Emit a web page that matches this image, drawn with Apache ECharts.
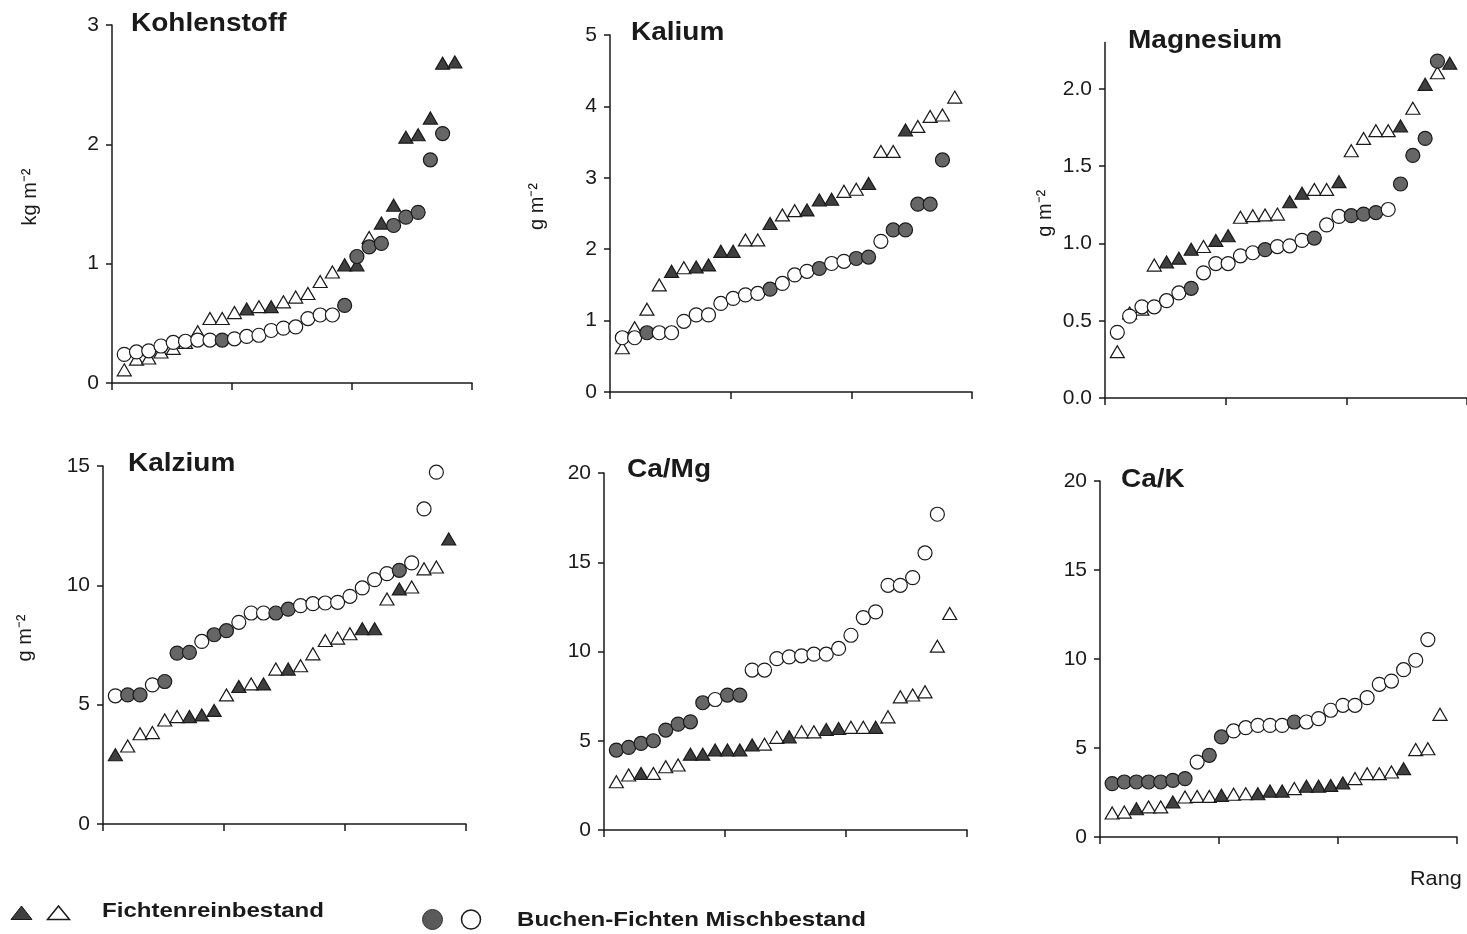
<!DOCTYPE html>
<html><head><meta charset="utf-8">
<script src="https://cdn.jsdelivr.net/npm/echarts@6/dist/echarts.min.js"></script>
<style>html,body{margin:0;padding:0;background:#fff}#c{width:1467px;height:934px}</style>
</head><body><div id="c"></div>
<script>
// ---------- DATA (ranked values; flag 1 = filled symbol, 0 = open symbol) ----------
const titles = ['Kohlenstoff','Kalium','Magnesium','Kalzium','Ca/Mg','Ca/K'];
const yNames = ['kg m\u207B\u00B2','g m\u207B\u00B2','g m\u207B\u00B2','g m\u207B\u00B2','',''];
const yMax = [3, 5, 2.3, 15, 20, 20];
const yStep = [1, 1, 0.5, 5, 5, 5];
const yTicks3 = [0, 0.5, 1.0, 1.5, 2.0];

// Kohlenstoff
const fiC  = [0.11,0.2,0.21,0.26,0.29,0.34,0.43,0.54,0.54,0.59,0.62,0.64,0.64,0.68,0.72,0.75,0.85,0.93,0.99,0.99,1.22,1.34,1.49,2.06,2.08,2.22,2.68,2.69];
const fiCf = [0,0,0,0,0,0,0,0,0,0,1,0,1,0,0,0,0,0,1,1,0,1,1,1,1,1,1,1];
const buC  = [0.24,0.26,0.27,0.31,0.34,0.35,0.36,0.36,0.36,0.37,0.39,0.4,0.44,0.46,0.47,0.54,0.57,0.57,0.65,1.06,1.14,1.17,1.32,1.39,1.43,1.87,2.09];
const buCf = [0,0,0,0,0,0,0,0,1,0,0,0,0,0,0,0,0,0,1,1,1,1,1,1,1,1,1];
// Kalium
const fiK  = [0.62,0.9,1.16,1.5,1.69,1.74,1.75,1.78,1.97,1.97,2.13,2.13,2.36,2.48,2.54,2.55,2.69,2.7,2.81,2.84,2.92,3.37,3.37,3.67,3.72,3.86,3.88,4.13];
const fiKf = [0,0,0,0,1,0,1,1,1,1,0,0,1,0,0,1,1,1,0,0,1,0,0,1,0,0,0,0];
const buK  = [0.76,0.76,0.83,0.83,0.83,0.99,1.08,1.08,1.24,1.31,1.36,1.38,1.44,1.52,1.64,1.69,1.73,1.8,1.83,1.87,1.89,2.11,2.27,2.27,2.63,2.63,3.25];
const buKf = [0,0,1,0,0,0,0,0,0,0,0,0,1,0,0,0,1,0,0,1,1,0,1,1,1,1,1];
// Magnesium
const fiM  = [0.3,0.55,0.575,0.86,0.88,0.905,0.963,0.98,1.02,1.05,1.17,1.18,1.185,1.19,1.27,1.325,1.35,1.35,1.4,1.6,1.68,1.73,1.73,1.76,1.875,2.03,2.105,2.166];
const fiMf = [0,0,0,0,1,1,1,0,1,1,0,0,0,0,1,1,0,0,1,0,0,0,0,1,0,1,0,1];
const buM  = [0.425,0.53,0.59,0.59,0.63,0.68,0.71,0.81,0.87,0.87,0.92,0.94,0.96,0.98,0.985,1.02,1.035,1.12,1.175,1.18,1.19,1.2,1.22,1.385,1.57,1.68,2.18];
const buMf = [0,0,0,0,0,0,1,0,0,0,0,0,1,0,0,0,1,0,0,1,1,1,0,1,1,1,1];
// Kalzium
const fiCa  = [2.9,3.27,3.78,3.83,4.36,4.5,4.5,4.57,4.76,5.41,5.76,5.87,5.87,6.49,6.49,6.63,7.13,7.69,7.79,7.97,8.18,8.18,9.43,9.85,9.93,10.69,10.77,11.94];
const fiCaf = [1,0,0,0,0,0,1,1,1,0,1,0,1,0,1,0,0,0,0,0,1,1,0,1,0,0,0,1];
const buCa  = [5.37,5.41,5.41,5.83,5.97,7.16,7.19,7.65,7.93,8.1,8.45,8.84,8.84,8.84,9.0,9.15,9.23,9.26,9.29,9.54,9.89,10.24,10.49,10.63,10.94,13.2,14.74];
const buCaf = [0,1,1,0,1,1,1,0,1,1,0,0,0,1,1,0,0,0,0,0,0,0,0,1,0,0,0];
// Ca/Mg
const fiCaMg  = [2.7,3.08,3.17,3.17,3.54,3.64,4.25,4.25,4.48,4.48,4.48,4.76,4.81,5.19,5.22,5.5,5.5,5.63,5.69,5.75,5.75,5.75,6.34,7.46,7.56,7.74,10.3,12.13];
const fiCaMgf = [0,0,1,0,0,0,1,1,1,1,1,1,0,0,1,0,0,1,1,0,0,1,0,0,0,0,0,0];
const buCaMg  = [4.48,4.63,4.85,5.0,5.6,5.93,6.06,7.13,7.31,7.56,7.56,8.96,8.96,9.6,9.7,9.76,9.85,9.85,10.17,10.91,11.9,12.22,13.71,13.71,14.14,15.52,17.69];
const buCaMgf = [1,1,1,1,1,1,1,1,0,1,1,0,0,0,0,0,0,0,0,0,0,0,0,0,0,0,0];
// Ca/K
const fiCaK  = [1.35,1.4,1.59,1.69,1.69,1.97,2.25,2.28,2.28,2.34,2.4,2.43,2.43,2.58,2.58,2.72,2.85,2.85,2.9,3.03,3.28,3.56,3.56,3.65,3.84,4.91,4.96,6.89];
const fiCaKf = [0,0,1,0,0,1,0,0,0,1,0,0,1,1,1,0,1,1,1,1,0,0,0,0,1,0,0,0];
const buCaK  = [3.0,3.09,3.09,3.09,3.09,3.18,3.28,4.21,4.59,5.62,5.96,6.14,6.27,6.27,6.27,6.46,6.46,6.65,7.12,7.4,7.4,7.83,8.58,8.76,9.4,9.93,11.09];
const buCaKf = [1,1,1,1,1,1,1,0,1,1,0,0,0,0,0,1,0,0,0,0,0,0,0,0,0,0,0];

const fichten = [fiC, fiK, fiM, fiCa, fiCaMg, fiCaK];
const fichtenFilled = [fiCf, fiKf, fiMf, fiCaf, fiCaMgf, fiCaKf];
const buchen = [buC, buK, buM, buCa, buCaMg, buCaK];
const buchenFilled = [buCf, buKf, buMf, buCaf, buCaMgf, buCaKf];

const legend1 = 'Fichtenreinbestand';
const legend2 = 'Buchen-Fichten Mischbestand';
const xName = 'Rang';

// ---------- LAYOUT ----------
const layout = [
  {left:112, top:25, width:360, height:358, gap:72, tx:131, ty:24},
  {left:610, top:35, width:362, height:357, gap:63, tx:631, ty:33},
  {left:1105, top:42.6, width:362, height:355.4, gap:50, tx:1128, ty:41.5},
  {left:103, top:466, width:363, height:358, gap:68, tx:128, ty:464},
  {left:604, top:473, width:363, height:357, gap:64, tx:627, ty:470.5},
  {left:1100, top:481, width:357, height:356, gap:64, tx:1121, ty:480.5}
];
const INK = '#1a1a1a';
const FONT = '"Liberation Sans", Arial, Helvetica, sans-serif';
const FILL_TRI = '#3f3f3f';
const FILL_CIR = '#666666';

const grid = [], xAxis = [], yAxis = [], series = [], graphic = [];
layout.forEach((L, p) => {
  grid.push({left:L.left, top:L.top, width:L.width, height:L.height, containLabel:false});
  xAxis.push({
    type:'value', gridIndex:p, min:0, max:29.4, interval:9.8,
    axisLine:{show:true, onZero:false, lineStyle:{color:INK, width:1.5}},
    axisTick:{show:true, inside:false, length:7, lineStyle:{color:INK, width:1.5}},
    axisLabel:{show:false}, splitLine:{show:false}
  });
  const yl = {
    type:'value', gridIndex:p, min:0, max:yMax[p], interval:yStep[p],
    name:yNames[p], nameLocation:'middle', nameGap:L.gap, nameRotate:90,
    nameTextStyle:{fontSize:20, color:INK, fontFamily:FONT, padding:[0,0,0,14]},
    axisLine:{show:true, lineStyle:{color:INK, width:1.5}},
    axisTick:{show:true, inside:false, length:6, lineStyle:{color:INK, width:1.5}},
    axisLabel:{show:true, fontSize:21, color:INK, fontFamily:FONT, margin:13,
      formatter: p === 2 ? (v => v.toFixed(1)) : (v => String(v))},
    splitLine:{show:false}
  };
  if (p === 2) {
    yl.axisLabel.customValues = yTicks3;
    yl.axisTick.customValues = yTicks3;
  }
  yAxis.push(yl);
  series.push({
    type:'scatter', xAxisIndex:p, yAxisIndex:p, symbol:'triangle', symbolSize:[14,12],
    itemStyle:{borderColor:INK, borderWidth:1.2, opacity:1},
    emphasis:{disabled:true},
    data: fichten[p].map((v,i) => ({value:[i+1, v], itemStyle:{color: fichtenFilled[p][i] ? FILL_TRI : '#ffffff'}}))
  });
  series.push({
    type:'scatter', xAxisIndex:p, yAxisIndex:p, symbol:'circle', symbolSize:14,
    itemStyle:{borderColor:INK, borderWidth:1.2, opacity:1},
    emphasis:{disabled:true},
    data: buchen[p].map((v,i) => ({value:[i+1, v], itemStyle:{color: buchenFilled[p][i] ? FILL_CIR : '#ffffff'}}))
  });
  graphic.push({type:'text', x:L.tx, y:L.ty, scaleX:1.12,
    style:{text:titles[p], font:'bold 25px ' + FONT, fill:INK, textAlign:'left', textVerticalAlign:'middle'}});
});

// legend (drawn as graphic glyphs)
graphic.push(
  {type:'polygon', shape:{points:[[11,919.5],[21.5,906],[32,919.5]]}, style:{fill:FILL_TRI, stroke:INK, lineWidth:1}},
  {type:'polygon', shape:{points:[[47.5,919.5],[58.5,906],[69.5,919.5]]}, style:{fill:'#fff', stroke:INK, lineWidth:1.5}},
  {type:'text', x:102, y:911.5, scaleX:1.146, style:{text:legend1, font:'bold 21px ' + FONT, fill:INK, textAlign:'left', textVerticalAlign:'middle'}},
  {type:'circle', shape:{cx:432.5, cy:919.5, r:10}, style:{fill:'#5a5a5a', stroke:'#333', lineWidth:1}},
  {type:'circle', shape:{cx:471, cy:919.5, r:9.5}, style:{fill:'#fff', stroke:INK, lineWidth:1.5}},
  {type:'text', x:517, y:920, scaleX:1.146, style:{text:legend2, font:'bold 21px ' + FONT, fill:INK, textAlign:'left', textVerticalAlign:'middle'}},
  {type:'text', x:1410, y:879, scaleX:1.03, style:{text:xName, font:'21px ' + FONT, fill:INK, textAlign:'left', textVerticalAlign:'middle'}}
);

const chart = echarts.init(document.getElementById('c'), null, {renderer:'canvas'});
chart.setOption({animation:false, backgroundColor:'#ffffff', grid, xAxis, yAxis, series, graphic});
</script>
</body></html>
